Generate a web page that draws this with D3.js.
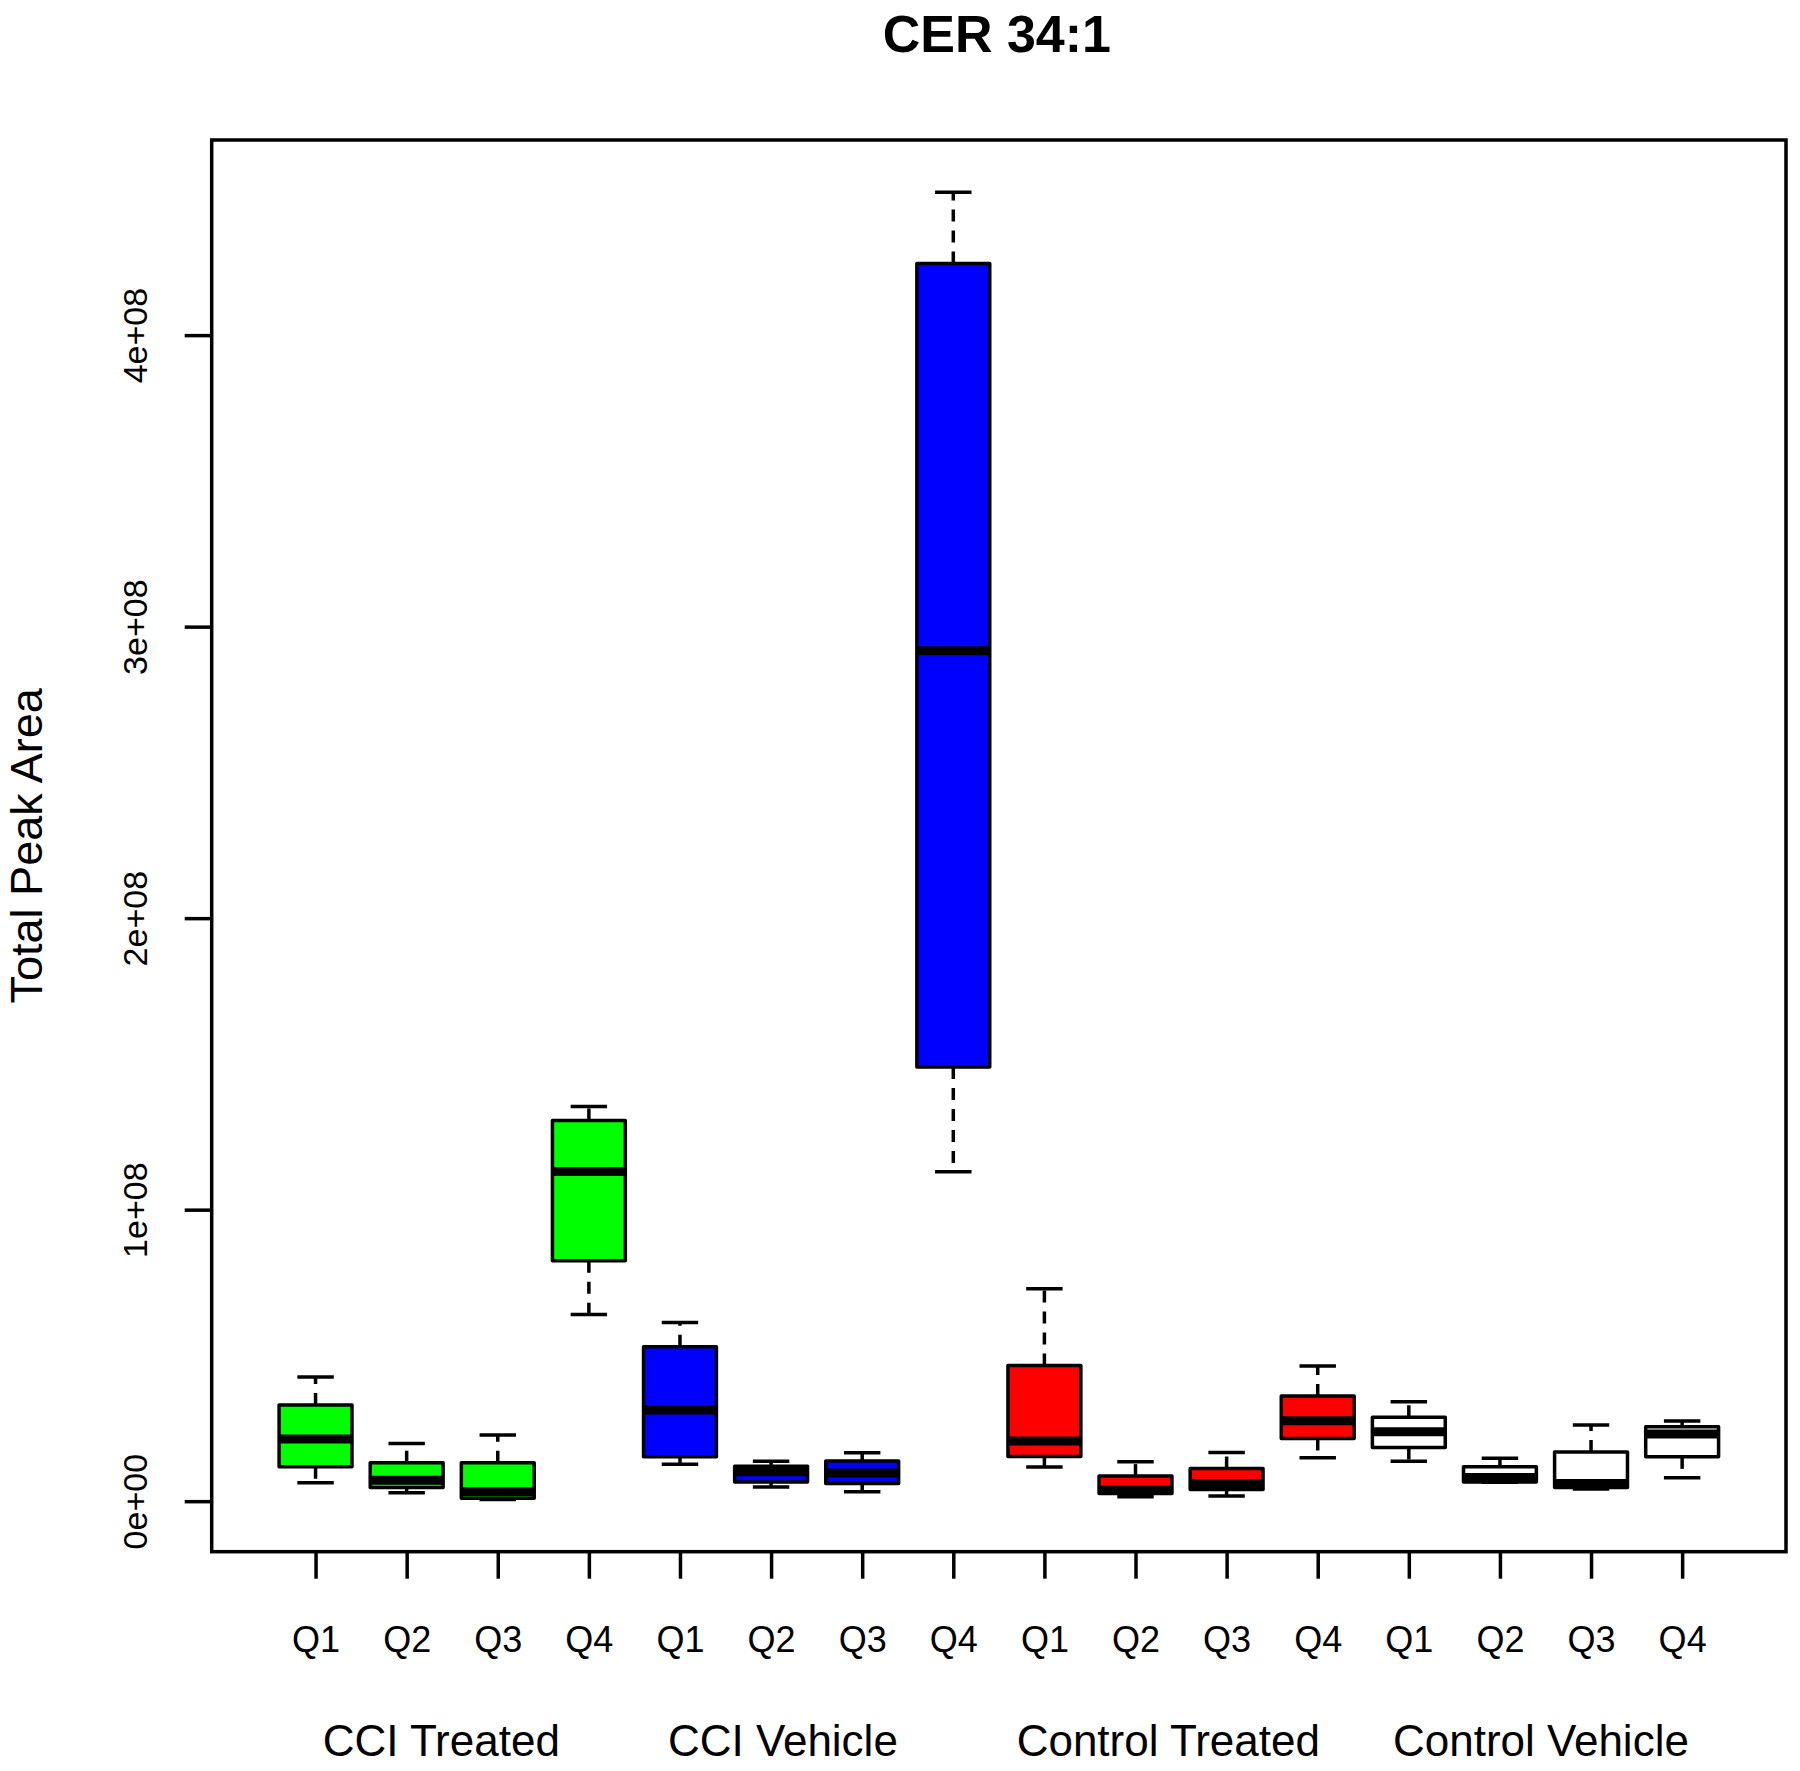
<!DOCTYPE html>
<html>
<head>
<meta charset="utf-8">
<script src="https://cdn.jsdelivr.net/npm/d3@7"></script>
<style>
  html, body { margin: 0; padding: 0; background: #fff; }
  svg { display: block; }
  text { font-family: "Liberation Sans", Arial, sans-serif; fill: #000; }
</style>
</head>
<body>
<script>
// ---- data (values in units of 1e8 Total Peak Area) ----
const groups = ["CCI Treated", "CCI Vehicle", "Control Treated", "Control Vehicle"];
const quarters = ["Q1", "Q2", "Q3", "Q4"];
const groupColors = ["#00ff00", "#0000ff", "#ff0000", "#ffffff"];

const lowerWhisker = [0.063, 0.029, 0.006, 0.640,  0.127, 0.049, 0.032, 1.130,  0.117, 0.015, 0.018, 0.149,  0.137, 0.065, 0.042, 0.080];
const lowerQuartile = [0.118, 0.047, 0.010, 0.825,  0.152, 0.066, 0.061, 1.489,  0.153, 0.026, 0.040, 0.215,  0.184, 0.066, 0.047, 0.152];
const medians       = [0.213, 0.072, 0.032, 1.131,  0.313, 0.101, 0.097, 2.917,  0.206, 0.038, 0.061, 0.276,  0.238, 0.081, 0.061, 0.230];
const upperQuartile = [0.330, 0.132, 0.132, 1.306,  0.530, 0.120, 0.138, 4.246,  0.465, 0.086, 0.112, 0.361,  0.288, 0.118, 0.169, 0.255];
const upperWhisker  = [0.426, 0.198, 0.227, 1.354,  0.613, 0.137, 0.166, 4.490,  0.729, 0.135, 0.167, 0.464,  0.341, 0.147, 0.261, 0.275];

const yTickValues = [0, 1, 2, 3, 4];
const yTickLabels = ["0e+00", "1e+08", "2e+08", "3e+08", "4e+08"];
const title = "CER 34:1";
const yTitle = "Total Peak Area";

// ---- layout ----
const W = 1800, H = 1771;
const plot = { left: 211.7, right: 1786, top: 140, bottom: 1551.7 };

const boxes = lowerWhisker.map((lw, i) => ({
  pos: i + 1,
  label: quarters[i % 4],
  group: Math.floor(i / 4),
  lw, q1: lowerQuartile[i], med: medians[i], q3: upperQuartile[i], uw: upperWhisker[i]
}));

const n = boxes.length;
const x = d3.scaleLinear()
  .domain([0.5 - 0.04 * n, n + 0.5 + 0.04 * n])
  .range([plot.left, plot.right]);

const yMin = d3.min(boxes, d => d.lw), yMax = d3.max(boxes, d => d.uw);
const yr = yMax - yMin;
const y = d3.scaleLinear()
  .domain([yMin - 0.04 * yr, yMax + 0.04 * yr])
  .range([plot.bottom, plot.top]);

const svg = d3.select("body").append("svg")
  .attr("width", W).attr("height", H);

svg.append("rect").attr("width", W).attr("height", H).attr("fill", "#fff");

// title
svg.append("text")
  .attr("x", (plot.left + plot.right) / 2 - 2)
  .attr("y", 52)
  .attr("text-anchor", "middle")
  .attr("font-size", 52)
  .attr("font-weight", "bold")
  .text(title);

// y title
svg.append("text")
  .attr("transform", `translate(42, ${(plot.top + plot.bottom) / 2}) rotate(-90)`)
  .attr("text-anchor", "middle")
  .attr("font-size", 45)
  .text(yTitle);

const boxW = 0.8 * (x(2) - x(1));
const stroke = 3.5;

const g = svg.append("g");

const b = g.selectAll("g.box").data(boxes).enter().append("g").attr("class", "box");

// dashed whiskers
b.append("line")
  .attr("x1", d => x(d.pos)).attr("x2", d => x(d.pos))
  .attr("y1", d => y(d.q3)).attr("y2", d => y(d.uw))
  .attr("stroke", "#000").attr("stroke-width", stroke)
  .attr("stroke-dasharray", "12,9");
b.append("line")
  .attr("x1", d => x(d.pos)).attr("x2", d => x(d.pos))
  .attr("y1", d => y(d.q1)).attr("y2", d => y(d.lw))
  .attr("stroke", "#000").attr("stroke-width", stroke)
  .attr("stroke-dasharray", "12,9");
// staples
b.append("line")
  .attr("x1", d => x(d.pos) - boxW / 4).attr("x2", d => x(d.pos) + boxW / 4)
  .attr("y1", d => y(d.uw)).attr("y2", d => y(d.uw))
  .attr("stroke", "#000").attr("stroke-width", stroke);
b.append("line")
  .attr("x1", d => x(d.pos) - boxW / 4).attr("x2", d => x(d.pos) + boxW / 4)
  .attr("y1", d => y(d.lw)).attr("y2", d => y(d.lw))
  .attr("stroke", "#000").attr("stroke-width", stroke);
// boxes
b.append("rect")
  .attr("x", d => x(d.pos) - boxW / 2)
  .attr("width", boxW)
  .attr("y", d => y(d.q3))
  .attr("height", d => y(d.q1) - y(d.q3))
  .attr("fill", d => groupColors[d.group])
  .attr("stroke", "#000").attr("stroke-width", stroke)
  .attr("stroke-linejoin", "round");
// medians
b.append("line")
  .attr("x1", d => x(d.pos) - boxW / 2).attr("x2", d => x(d.pos) + boxW / 2)
  .attr("y1", d => y(d.med)).attr("y2", d => y(d.med))
  .attr("stroke", "#000").attr("stroke-width", 9);

// frame
svg.append("rect")
  .attr("x", plot.left).attr("y", plot.top)
  .attr("width", plot.right - plot.left).attr("height", plot.bottom - plot.top)
  .attr("fill", "none").attr("stroke", "#000").attr("stroke-width", 3.5);

// y axis
const yAxis = d3.axisLeft(y).tickValues(yTickValues).tickSize(27).tickPadding(0)
  .tickFormat((d, i) => yTickLabels[i]);
const ya = svg.append("g").attr("transform", `translate(${plot.left},0)`).call(yAxis);
ya.select(".domain").remove();
ya.selectAll(".tick line").attr("stroke", "#000").attr("stroke-width", 3.5);
ya.selectAll(".tick text")
  .attr("font-size", 34)
  .attr("font-family", '"Liberation Sans", Arial, sans-serif')
  .attr("fill", "#000")
  .attr("text-anchor", "middle")
  .attr("dy", null)
  .attr("x", null)
  .attr("transform", "translate(-77,0) rotate(-90) translate(0,12)");

// x axis
const xAxis = d3.axisBottom(x).tickValues(boxes.map(d => d.pos)).tickSize(27).tickPadding(0)
  .tickFormat((d, i) => boxes[i].label);
const xa = svg.append("g").attr("transform", `translate(0,${plot.bottom})`).call(xAxis);
xa.select(".domain").remove();
xa.selectAll(".tick line").attr("stroke", "#000").attr("stroke-width", 3.5);
xa.selectAll(".tick text")
  .attr("font-size", 36)
  .attr("font-family", '"Liberation Sans", Arial, sans-serif')
  .attr("fill", "#000")
  .attr("dy", null)
  .attr("y", 100);

// group labels
const groupLabelAt = [2.38, 6.13, 10.36, 14.45];
svg.selectAll("text.grp").data(groups).enter().append("text")
  .attr("class", "grp")
  .attr("x", (d, i) => x(groupLabelAt[i]))
  .attr("y", 1756)
  .attr("text-anchor", "middle")
  .attr("font-size", 44)
  .text(d => d);
</script>
</body>
</html>
